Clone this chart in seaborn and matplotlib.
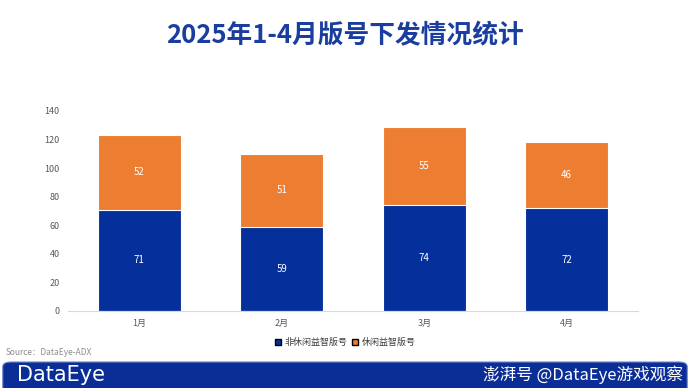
import seaborn as sns
import matplotlib.pyplot as plt
import pandas as pd
from matplotlib.patches import FancyBboxPatch
from matplotlib.lines import Line2D

months = ["1月", "2月", "3月", "4月"]
non_casual = [71, 59, 74, 72]
casual = [52, 51, 55, 46]
series_names = ["非休闲益智版号", "休闲益智版号"]

BLUE = "#05309B"
ORANGE = "#ED7D31"

sns.set_theme(style="white")
plt.rcParams["font.family"] = ["Noto Sans CJK SC", "DejaVu Sans"]

df = pd.DataFrame({"month": months, "non_casual": non_casual, "casual": casual})
df["total"] = df["non_casual"] + df["casual"]

fig = plt.figure(figsize=(6.9, 3.88), dpi=100)
ax = fig.add_axes([0.0986, 0.1985, 0.826, 0.5155])

# stacked bars: total in orange, non-casual in blue on top of it
sns.barplot(data=df, x="month", y="total", color=ORANGE, width=0.58, saturation=1,
            edgecolor="white", linewidth=0.8, ax=ax)
sns.barplot(data=df, x="month", y="non_casual", color=BLUE, width=0.58, saturation=1,
            edgecolor="white", linewidth=0.8, ax=ax)

for i, row in df.iterrows():
    ax.text(i, row["non_casual"] / 2, str(row["non_casual"]), ha="center", va="center",
            color="white", fontsize=7)
    ax.text(i, row["non_casual"] + row["casual"] / 2, str(row["casual"]), ha="center",
            va="center", color="white", fontsize=7)

ax.set_ylim(0, 140)
ax.set_yticks(range(0, 141, 20))
ax.set_xlim(-0.5, 3.5)
ax.set_xlabel("")
ax.set_ylabel("")
ax.tick_params(axis="both", labelsize=6.5, colors="#595959", length=0, pad=6)
sns.despine(ax=ax, left=True)
ax.spines["bottom"].set_color("#D9D9D9")
ax.spines["bottom"].set_linewidth(0.8)

handles = [Line2D([0], [0], marker="s", color="none", markerfacecolor=BLUE, markersize=4),
           Line2D([0], [0], marker="s", color="none", markerfacecolor=ORANGE, markersize=4)]
fig.legend(handles, series_names, loc="center", bbox_to_anchor=(0.5, 0.118), ncol=2,
           frameon=False, fontsize=6.5, handletextpad=0.3, columnspacing=0.5,
           handlelength=0.8, labelcolor="#404040")

fig.text(0.5, 0.908, "2025年1-4月版号下发情况统计", ha="center", va="center",
         fontsize=18.5, fontweight="bold", color="#1A3DA0")

fig.text(0.008, 0.092, "Source：DataEye-ADX", fontsize=6, color="#8C8C8C", va="center")

banner = FancyBboxPatch((0.004, -0.05), 0.992, 0.117, transform=fig.transFigure,
                        boxstyle="round,pad=0,rounding_size=0.012", facecolor="#0A2E96",
                        edgecolor="#6F86C9", linewidth=0.8, zorder=1)
fig.patches.append(banner)
fig.text(0.025, 0.033, "DataEye", fontsize=15, color="white", va="center",
         family="DejaVu Sans", zorder=2)
fig.text(0.99, 0.035, "澎湃号 @DataEye游戏观察", fontsize=12, color="white", va="center",
         ha="right", zorder=2)

fig.savefig("out.png", dpi=100)
